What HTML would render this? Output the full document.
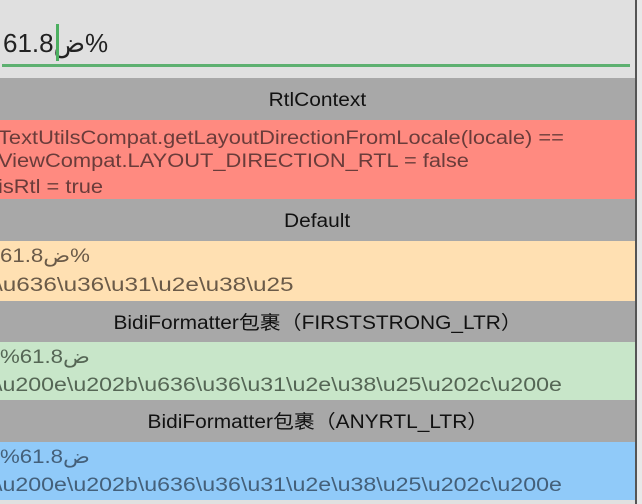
<!DOCTYPE html><html><head><style>
body{margin:0;width:642px;height:504px;overflow:hidden;background:#e0e0e0;font-family:"Liberation Sans","Noto Sans CJK SC",sans-serif;position:relative}
div{position:absolute;left:0;width:635px;box-sizing:border-box}
.h{background:#a8a8a8;color:#111;font-size:19px;text-align:center}
.h span{display:inline-block;transform:scaleX(1.1);position:relative;top:2px}
.t{font-size:19px;white-space:nowrap;position:absolute;left:0;transform:scaleX(1.17);transform-origin:0 0}
</style></head><body>
<div style="top:0;height:78px;background:#e0e0e0">
<span class="t" style="left:3px;top:28px;font-size:26px;color:#222;transform:none">61.8ض%</span>
<div style="left:56px;top:24px;width:3px;height:37px;background:#4caf60"></div>
<div style="left:2px;top:64px;width:628px;height:3px;background:#5db070"></div>
</div>
<div class="h" style="top:78px;height:42px;line-height:42px"><span>RtlContext</span></div>
<div style="top:120px;height:79px;background:#ff8a80;color:#6a3c3a">
<span class="t" style="top:8px;left:-2px;transform:scaleX(1.15)">TextUtilsCompat.getLayoutDirectionFromLocale(locale) ==</span>
<span class="t" style="top:31px;left:-2px;transform:scaleX(1.15)">ViewCompat.LAYOUT_DIRECTION_RTL = false</span>
<span class="t" style="top:57px;left:-2px;transform:scaleX(1.15)">isRtl = true</span>
</div>
<div class="h" style="top:199px;height:42px;line-height:42px"><span>Default</span></div>
<div style="top:241px;height:60px;background:#ffe0b2;color:#6a5a48">
<span class="t" style="top:4px;left:0">61.8ض%</span>
<span class="t" style="top:34px;left:-4px;transform:scaleX(1.28)">\u636\u36\u31\u2e\u38\u25</span>
</div>
<div class="h" style="top:301px;height:41px;line-height:41px"><span>BidiFormatter包裹（FIRSTSTRONG_LTR）</span></div>
<div style="top:342px;height:58px;background:#c8e6c9;color:#556655">
<span class="t" style="top:4px;left:0">%61.8ض</span>
<span class="t" style="top:33px;left:-4px;transform:scaleX(1.22)">\u200e\u202b\u636\u36\u31\u2e\u38\u25\u202c\u200e</span>
</div>
<div class="h" style="top:400px;height:42px;line-height:42px"><span>BidiFormatter包裹（ANYRTL_LTR）</span></div>
<div style="top:442px;height:58px;background:#90caf9;color:#44607a">
<span class="t" style="top:4px;left:0">%61.8ض</span>
<span class="t" style="top:33px;left:-4px;transform:scaleX(1.22)">\u200e\u202b\u636\u36\u31\u2e\u38\u25\u202c\u200e</span>
</div>
<div style="top:0;left:635px;width:2px;height:504px;background:#555"></div>
<div style="top:0;left:637px;width:5px;height:504px;background:#e8e8e8"></div>
</body></html>
